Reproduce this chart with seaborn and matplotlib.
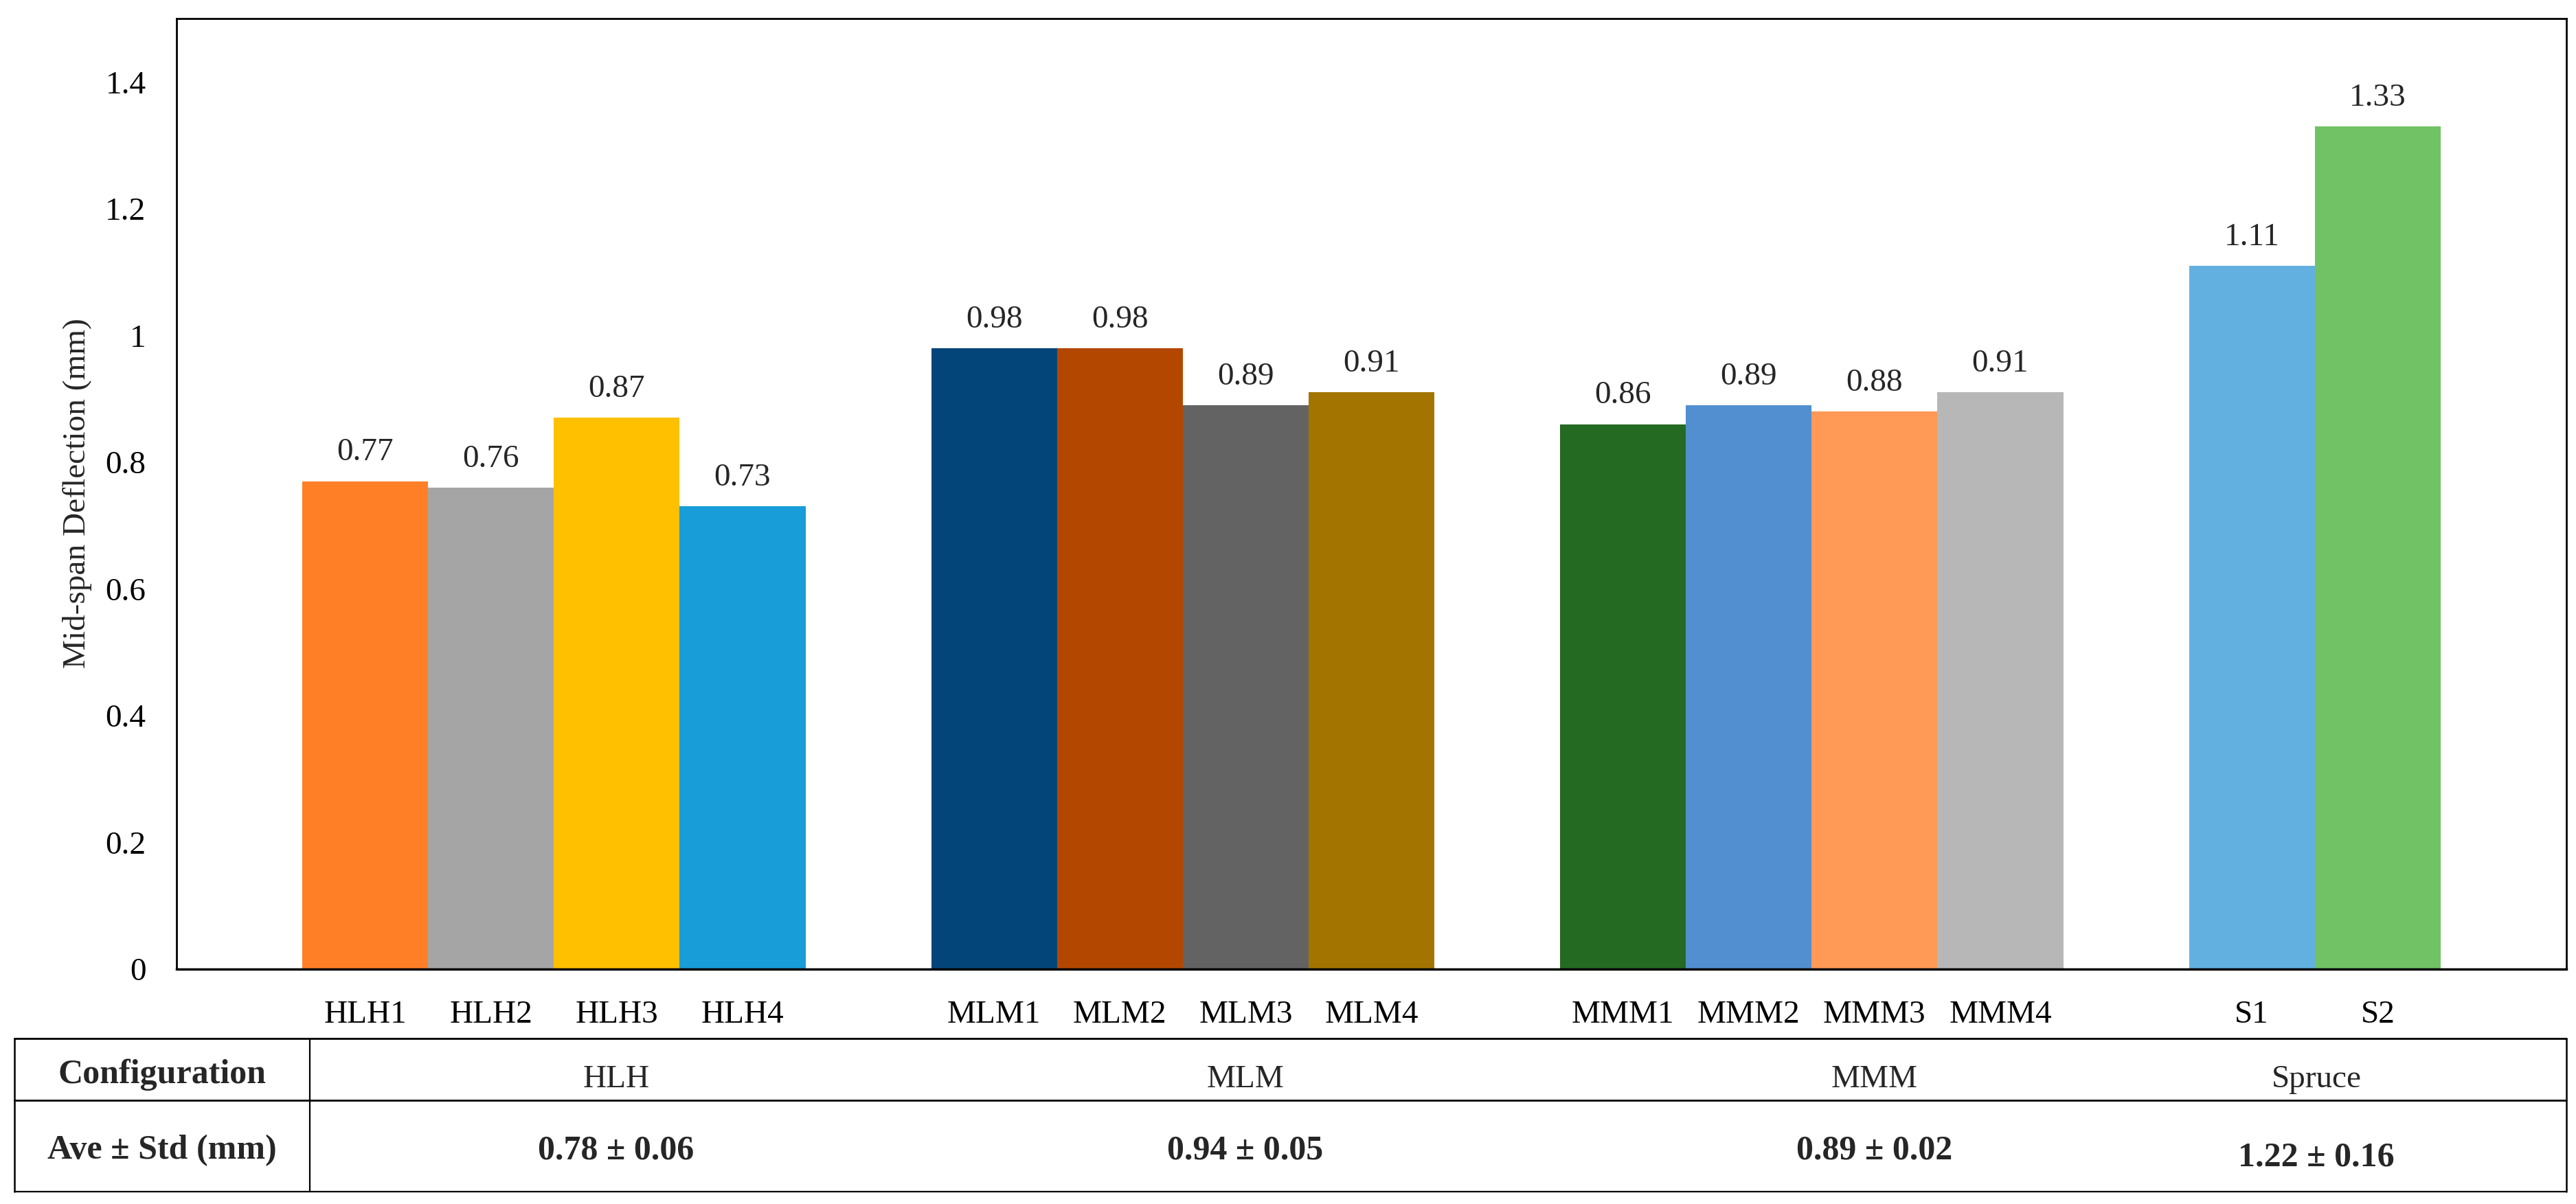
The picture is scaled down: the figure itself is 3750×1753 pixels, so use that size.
import matplotlib.pyplot as plt
import seaborn as sns
import pandas as pd
from matplotlib.lines import Line2D

# Bar data
samples = ['HLH1', 'HLH2', 'HLH3', 'HLH4',
           'MLM1', 'MLM2', 'MLM3', 'MLM4',
           'MMM1', 'MMM2', 'MMM3', 'MMM4',
           'S1', 'S2']
deflection = [0.77, 0.76, 0.87, 0.73,
              0.98, 0.98, 0.89, 0.91,
              0.86, 0.89, 0.88, 0.91,
              1.11, 1.33]
bar_colors = ['#FF7F27', '#A5A5A5', '#FFC000', '#189DD8',
              '#044579', '#B34700', '#636363', '#A37500',
              '#246A22', '#528FD1', '#FF9955', '#B7B7B7',
              '#62B0DF', '#70C264']

# category order with one empty slot between groups
order = ['HLH1', 'HLH2', 'HLH3', 'HLH4', ' ',
         'MLM1', 'MLM2', 'MLM3', 'MLM4', '  ',
         'MMM1', 'MMM2', 'MMM3', 'MMM4', '   ',
         'S1', 'S2']

yticks = [0, 0.2, 0.4, 0.6, 0.8, 1.0, 1.2, 1.4]

# Table under the chart
configs = ['HLH', 'MLM', 'MMM', 'Spruce']
config_mean = [0.78, 0.94, 0.89, 1.22]
config_std = [0.06, 0.05, 0.02, 0.16]

W, H = 3750, 1753
FS = 34

sns.set_style('white')
plt.rcParams['font.family'] = ['Liberation Serif', 'DejaVu Serif']


def fx(px):
    return px / W


def fy(py):
    return 1 - py / H


df = pd.DataFrame({'sample': samples, 'deflection': deflection})

fig = plt.figure(figsize=(W / 100, H / 100), dpi=100)
ax = fig.add_axes([fx(257), fy(1411), fx(3736) - fx(257), fy(27) - fy(1411)])

sns.barplot(data=df, x='sample', y='deflection', hue='sample',
            palette=dict(zip(samples, bar_colors)), order=order,
            width=1.0, saturation=1, legend=False, linewidth=0, ax=ax)

for cont in ax.containers:
    ax.bar_label(cont, fmt='%.2f', padding=14.5, fontsize=FS)

ax.set_xlim(-1.5, 17.5)
ax.set_ylim(0, 1.5)
ax.set_yticks(yticks)
ax.set_yticklabels(['{:g}'.format(v) for v in yticks])
ax.set_xlabel('')
ax.set_ylabel('')
ax.tick_params(axis='x', length=0, pad=33, labelsize=FS, colors='black')
ax.tick_params(axis='y', length=0, pad=32, labelsize=FS, colors='black')
for s in ax.spines.values():
    s.set_visible(True)
    s.set_color('black')
    s.set_linewidth(2)
ax.spines['bottom'].set_linewidth(2.5)

fig.text(fx(113), fy(718), 'Mid-span Deflection (mm)', rotation=90,
         ha='center', va='center', fontsize=FS)

# table lines
def hline(y, lw):
    fig.add_artist(Line2D([fx(21), fx(3736)], [fy(y), fy(y)],
                          color='black', lw=lw))


def vline(x, lw):
    fig.add_artist(Line2D([fx(x), fx(x)], [fy(1512), fy(1735)],
                          color='black', lw=lw))


hline(1512, 2.0)
hline(1602, 2.0)
hline(1735, 1.6)
vline(21, 1.8)
vline(451, 1.6)
vline(3736, 1.8)

fig.text(fx(236), fy(1577), 'Configuration', ha='center', va='baseline',
         fontsize=FS + 2, fontweight='bold')
fig.text(fx(236), fy(1687), 'Ave ± Std (mm)', ha='center', va='baseline',
         fontsize=FS + 2, fontweight='bold')

col_x = [897, 1813, 2729, 3372]
for i, name in enumerate(configs):
    fig.text(fx(col_x[i]), fy(1583), name, ha='center', va='baseline',
             fontsize=FS)
    fig.text(fx(col_x[i]), fy(1687 if i < 3 else 1698),
             '{:.2f} ± {:.2f}'.format(config_mean[i], config_std[i]),
             ha='center', va='baseline', fontsize=FS + 2, fontweight='bold')

fig.savefig('out.png', dpi=100)
plt.close()
